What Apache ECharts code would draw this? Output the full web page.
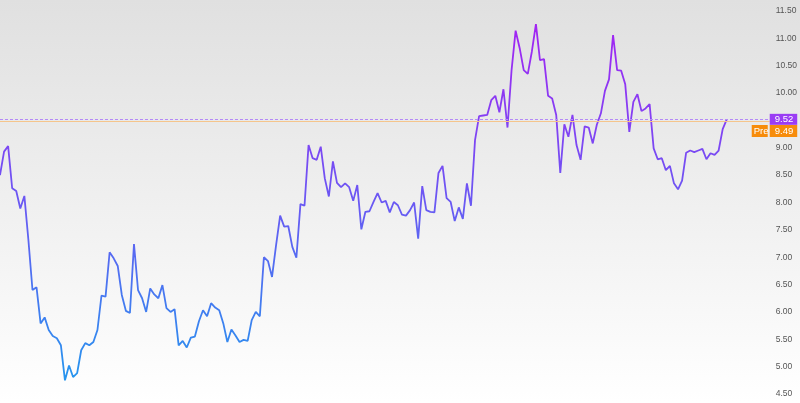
<!DOCTYPE html>
<html><head><meta charset="utf-8">
<script src="https://cdn.jsdelivr.net/npm/echarts@6/dist/echarts.min.js"></script>
<style>html,body{margin:0;padding:0;}#c{width:800px;height:403px;}</style>
</head><body><div id="c"></div>
<script>
const prices = [8.50,8.93,9.03,8.26,8.21,7.89,8.12,7.31,6.40,6.45,5.79,5.90,5.67,5.56,5.52,5.39,4.75,5.02,4.81,4.88,
5.30,5.43,5.39,5.45,5.67,6.30,6.28,7.09,6.98,6.84,6.31,6.02,5.98,7.24,6.40,6.25,6.00,6.43,6.32,6.25,
6.49,6.07,6.00,6.05,5.39,5.47,5.35,5.53,5.55,5.83,6.03,5.92,6.16,6.08,6.03,5.79,5.45,5.68,5.57,5.45,
5.49,5.47,5.85,6.00,5.92,7.00,6.93,6.64,7.22,7.76,7.56,7.57,7.19,6.99,7.97,7.94,9.05,8.81,8.78,9.02,
8.44,8.11,8.75,8.36,8.28,8.35,8.28,8.03,8.32,7.51,7.83,7.84,8.01,8.17,8.00,8.03,7.82,8.01,7.95,7.78,
7.76,7.86,8.00,7.34,8.30,7.86,7.83,7.82,8.54,8.67,8.08,8.01,7.66,7.91,7.70,8.35,7.94,9.14,9.58,9.59,
9.60,9.87,9.95,9.65,10.07,9.37,10.42,11.14,10.82,10.42,10.35,10.76,11.26,10.60,10.62,9.95,9.90,9.60,8.54,9.43,
9.20,9.60,9.05,8.78,9.39,9.37,9.08,9.42,9.63,10.04,10.25,11.06,10.42,10.41,10.16,9.29,9.84,9.98,9.67,9.72,
9.80,8.99,8.79,8.81,8.59,8.67,8.35,8.24,8.40,8.91,8.95,8.92,8.95,8.98,8.79,8.90,8.87,8.95,9.34,9.52];
const lastPrice = 9.52;
const prePrice = 9.49;
const preLabel = 'Pre';
const yTicks = {min: 4.5, max: 11.5, step: 0.5};

const chart = echarts.init(document.getElementById('c'), null, {renderer: 'canvas'});
const pts = prices.map((v, i) => [i, v]);
const boxFont = {color: '#fff', fontSize: 9.5, fontFamily: 'Liberation Sans', lineHeight: 9};
chart.setOption({
  animation: false,
  backgroundColor: {type: 'linear', x: 0, y: 0, x2: 0, y2: 1,
    colorStops: [{offset: 0, color: '#e0e0e0'}, {offset: 1, color: '#ffffff'}]},
  grid: {left: 0, right: 30, top: 11, bottom: 9, containLabel: false},
  xAxis: {type: 'value', min: 0, max: (prices.length - 1) * 770 / 727, show: false},
  yAxis: {type: 'value', position: 'right', min: yTicks.min, max: yTicks.max, interval: yTicks.step,
    axisLine: {show: false}, axisTick: {show: false}, splitLine: {show: false},
    axisLabel: {margin: 6, color: '#555555', fontSize: 8.5, fontFamily: 'Liberation Sans',
      formatter: v => Math.abs(v - 9.5) < 1e-9 ? '' : v.toFixed(2)}},
  series: [{
    type: 'line', data: pts, showSymbol: false, symbol: 'none', z: 3,
    lineStyle: {width: 1.8, color: {type: 'linear', x: 0, y: 0, x2: 0, y2: 1,
      colorStops: [{offset: 0, color: '#a323f3'}, {offset: 0.5, color: '#6a58f3'}, {offset: 1, color: '#2596ee'}]}},
    markLine: {
      silent: true, symbol: 'none', animation: false,
      lineStyle: {color: '#b48af7', type: [3, 2], width: 1},
      label: Object.assign({show: true, position: 'end', distance: 0, formatter: p => p.value.toFixed(2),
        backgroundColor: '#9a3cf4', padding: [1, 4, 1, 5]}, boxFont),
      data: [{yAxis: lastPrice}]
    }
  }, {
    type: 'line', data: [], showSymbol: false, z: 2,
    markLine: {
      silent: true, symbol: 'none', animation: false,
      lineStyle: {color: '#f5c58c', type: 'solid', width: 1},
      label: {show: true, position: 'end', distance: 0, offset: [-18, 10],
        formatter: p => '{p|' + preLabel + '}{s|}{v|' + p.value.toFixed(2) + '}',
        rich: {
          p: Object.assign({backgroundColor: '#f78c0b', padding: [1, 2, 1, 2], width: 12}, boxFont),
          s: {width: 2},
          v: Object.assign({backgroundColor: '#f78c0b', padding: [1, 4, 1, 5]}, boxFont)
        }},
      data: [{yAxis: prePrice}]
    }
  }]
});
</script></body></html>
